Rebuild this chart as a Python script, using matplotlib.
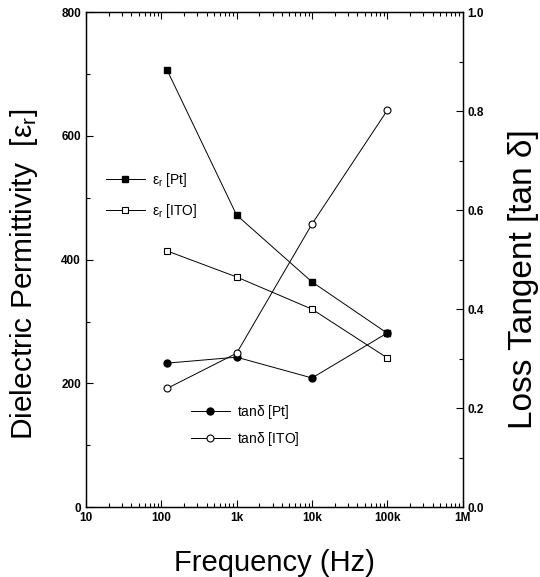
import matplotlib
matplotlib.use('Agg')
import matplotlib.pyplot as plt
from matplotlib.ticker import (FixedLocator, FixedFormatter, MultipleLocator,
                               NullFormatter, FormatStrFormatter)

plt.rcParams['font.family'] = ['Liberation Sans', 'DejaVu Sans']
plt.rcParams['mathtext.fontset'] = 'dejavusans'
plt.rcParams['mathtext.default'] = 'regular'

# data
freq = [120, 1000, 10000, 100000]
er_pt = [706, 472, 364, 281]
er_ito = [414, 372, 320, 241]
tan_pt = [0.291, 0.303, 0.261, 0.352]
tan_ito = [0.240, 0.311, 0.572, 0.802]

xticks = [10, 100, 1e3, 1e4, 1e5, 1e6]
xlabels = ['10', '100', '1k', '10k', '100k', '1M']
xminor = [m * 10 ** e for e in range(1, 6) for m in range(2, 10)]

fig = plt.figure(figsize=(5.4, 5.77), dpi=100)
ax = fig.add_axes([0.159, 0.121, 0.698, 0.858])
ax2 = ax.twinx()

lw = 0.7
h1, = ax.plot(freq, er_pt, '-', color='black', lw=lw, marker='s', ms=4.2,
              mfc='black', mec='black', label=r'$\varepsilon_r$ [Pt]')
h2, = ax.plot(freq, er_ito, '-', color='black', lw=lw, marker='s', ms=4.2,
              mfc='white', mec='black', mew=0.8, label=r'$\varepsilon_r$ [ITO]')
h3, = ax2.plot(freq, tan_pt, '-', color='black', lw=lw, marker='o', ms=5,
               mfc='black', mec='black', label=r'tan$\delta$ [Pt]')
h4, = ax2.plot(freq, tan_ito, '-', color='black', lw=lw, marker='o', ms=5,
               mfc='white', mec='black', mew=0.8, label=r'tan$\delta$ [ITO]')

ax.set_xscale('log')
ax.set_xlim(10, 1e6)
ax.set_ylim(0, 800)
ax2.set_ylim(0, 1.0)
ax.xaxis.set_major_locator(FixedLocator(xticks))
ax.xaxis.set_major_formatter(FixedFormatter(xlabels))
ax.xaxis.set_minor_locator(FixedLocator(xminor))
ax.xaxis.set_minor_formatter(NullFormatter())
ax.yaxis.set_major_locator(MultipleLocator(200))
ax.yaxis.set_minor_locator(MultipleLocator(100))
ax2.yaxis.set_major_locator(MultipleLocator(0.2))
ax2.yaxis.set_minor_locator(MultipleLocator(0.1))
ax2.yaxis.set_major_formatter(FormatStrFormatter('%.1f'))

for a in (ax, ax2):
    a.tick_params(which='both', direction='in', labelsize=8.5, width=0.8)
    a.tick_params(which='major', length=5)
    a.tick_params(which='minor', length=3)
    for s in a.spines.values():
        s.set_linewidth(0.9)
ax.tick_params(axis='x', which='both', top=True, bottom=True)
for lab in ax.get_xticklabels() + ax.get_yticklabels() + ax2.get_yticklabels():
    lab.set_fontweight('bold')

ax.set_xlabel('Frequency (Hz)', fontsize=21, labelpad=18)
ax.set_ylabel(r'Dielectric Permittivity  [$\varepsilon_r$]', fontsize=21.5)
ax2.set_ylabel('Loss Tangent [tan δ]', fontsize=24)
ax.yaxis.set_label_coords(-0.122, 0.47)
ax2.yaxis.set_label_coords(1.119, 0.46)

leg1 = ax2.legend(handles=[h1, h2], loc='center left', bbox_to_anchor=(0.02, 0.63),
                  frameon=False, fontsize=10, handlelength=2.8, labelspacing=0.9,
                  handletextpad=0.5)
ax2.add_artist(leg1)
ax2.legend(handles=[h3, h4], loc='center left', bbox_to_anchor=(0.245, 0.165),
           frameon=False, fontsize=10, handlelength=2.8, labelspacing=0.6,
           handletextpad=0.5)

fig.savefig('out.png', dpi=100)
